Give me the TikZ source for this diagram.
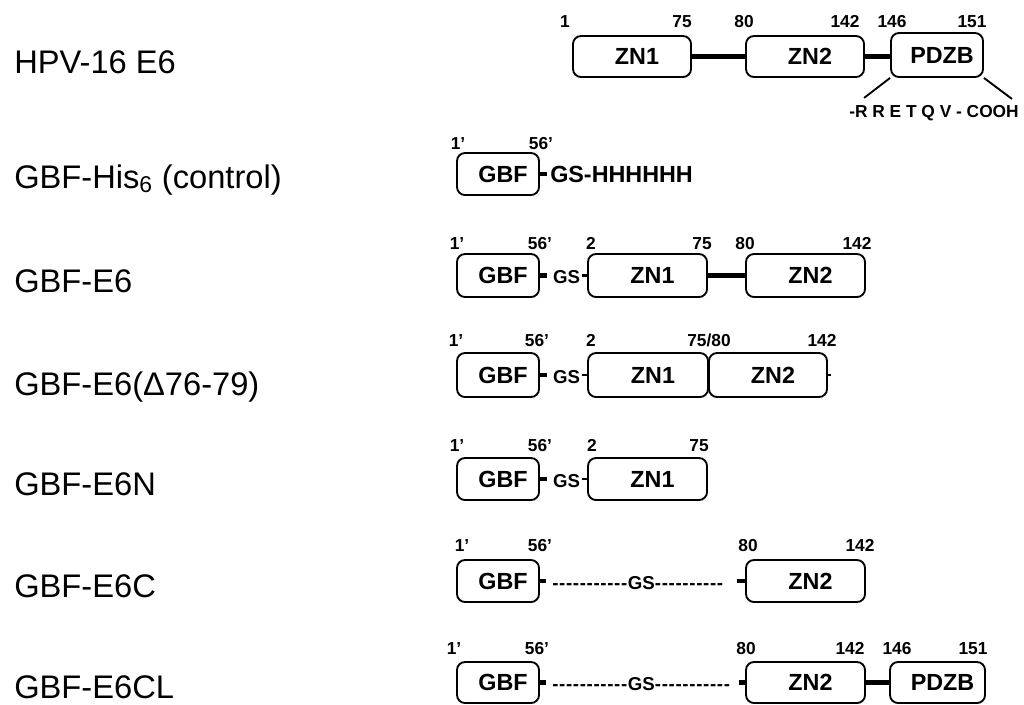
\documentclass[tikz,border=0pt]{standalone}
\usepackage{fontspec}
\setmainfont{Liberation Sans}
\tikzset{
  box/.style={draw, line width=1.4pt, rounded corners=6pt, inner sep=0pt,
    font=\fontsize{17.5}{20}\selectfont\bfseries},
  num/.style={font=\fontsize{13}{15}\selectfont\bfseries, inner sep=0pt, anchor=base, yshift=-6*0.75pt},
  lbl/.style={font=\fontsize{24.5}{28}\selectfont, anchor=base west, inner sep=0pt},
  link/.style={line width=3.75pt},
  dotlink/.style={line width=3.5pt},
  ticklink/.style={line width=2pt},
  thin/.style={line width=1.4pt},
  gstext/.style={font=\fontsize{14}{16}\selectfont\bfseries, inner sep=0pt},
  histext/.style={font=\fontsize{17.5}{20}\selectfont\bfseries, inner sep=0pt, anchor=west},
  seqtext/.style={font=\fontsize{13}{15}\selectfont\bfseries, inner sep=0pt},
}
\newcommand\pbox[6]{\node[box, minimum width=#4*0.75pt, minimum height=#5*0.75pt] (#1) at (#2,#3) {\hspace*{7.5pt}#6};}
\newcommand\hy{-\kern0.5pt}
\begin{document}
\begin{tikzpicture}[x=0.75pt,y=-0.75pt]
\useasboundingbox (0,0) rectangle (1024,704);

% labels
\node[lbl] (la) at (14,73) {HPV-16 E6};
\node[lbl] (lb) at (14,188) {GBF-His\textsubscript{6} (control)};
\node[lbl] (lc) at (14,292) {GBF-E6};
\node[lbl] (ld) at (14,395) {GBF-E6(Δ76-79)};
\node[lbl] (le) at (14,495) {GBF-E6N};
\node[lbl] (lf) at (14,597) {GBF-E6C};
\node[lbl] (lg) at (14,698) {GBF-E6CL};

% row 1
\pbox{aZa}{632}{56.5}{118}{41}{ZN1}
\pbox{aZb}{805}{56.5}{118}{41}{ZN2}
\pbox{aP}{937}{55}{92}{44}{PDZB}
\draw[link] (aZa.east) -- (aZb.west);
\draw[link] (aZb.east) -- (aZb.east -| aP.west);
\draw[thin] (aP.south west) -- ++(-26,20);
\draw[thin] (aP.south east) -- ++(28,21);
\node[seqtext] (aseq) at (934,113) {-R R E T Q V - COOH};
\node[num] (an1) at (565,21) {1};
\node[num] (an2) at (682,21) {75};
\node[num] (an3) at (744,21) {80};
\node[num] (an4) at (845,21) {142};
\node[num] (an5) at (892,21) {146};
\node[num] (an6) at (972,21) {151};

% row 2
\pbox{bG}{498}{174}{82}{42}{GBF}
\draw[dotlink] (bG.east) -- ++(7,0);
\node[histext] (bH) at (550,174) {GS-HHHHHH};
\node[num] (bn1) at (458,143) {1’};
\node[num] (bn2) at (541,143) {56’};

% row 3
\pbox{cG}{498}{275.5}{82}{43}{GBF}
\draw[dotlink] (cG.east) -- ++(7,0);
\node[gstext] (cS) at (566.5,277) {GS};
\pbox{cZa}{647.5}{275.5}{119}{43}{ZN1}
\pbox{cZb}{805.5}{275.5}{119}{43}{ZN2}
\draw[ticklink] (cZa.west) -- ++(-5,0);
\draw[link] (cZa.east) -- (cZb.west);
\node[num] (cn1) at (457,243) {1’};
\node[num] (cn2) at (540,243) {56’};
\node[num] (cn3) at (591,243) {2};
\node[num] (cn4) at (702,243) {75};
\node[num] (cn5) at (745,243) {80};
\node[num] (cn6) at (857,243) {142};

% row 4
\pbox{dG}{498}{375}{82}{44}{GBF}
\draw[dotlink] (dG.east) -- ++(7,0);
\node[gstext] (dS) at (566.5,377) {GS};
\pbox{dZa}{648}{375}{120}{44}{ZN1}
\pbox{dZb}{768}{375}{118}{44}{ZN2}
\draw[ticklink] (dZa.west) -- ++(-5,0);
\draw[ticklink] (dZb.east) -- ++(3,0);
\node[num] (dn1) at (456,340) {1’};
\node[num] (dn2) at (537,340) {56’};
\node[num] (dn3) at (591,340) {2};
\node[num] (dn4) at (709,340) {75/80};
\node[num] (dn5) at (822,340) {142};

% row 5
\pbox{eG}{498}{479}{82}{42}{GBF}
\draw[dotlink] (eG.east) -- ++(7,0);
\node[gstext] (eS) at (566.5,481) {GS};
\pbox{eZa}{647.5}{479}{119}{42}{ZN1}
\draw[ticklink] (eZa.west) -- ++(-5,0);
\node[num] (en1) at (457,445) {1’};
\node[num] (en2) at (540,445) {56’};
\node[num] (en3) at (592,445) {2};
\node[num] (en4) at (699,445) {75};

% row 6
\pbox{fG}{498}{581}{82}{42}{GBF}
\draw[dotlink] (fG.east) -- ++(6,0);
\node[gstext, anchor=west] (fS) at (552,583) {\hy\hy\hy\hy\hy\hy\hy\hy\hy\hy\hy GS\hy\hy\hy\hy\hy\hy\hy\hy\hy\hy};
\pbox{fZb}{805.5}{581}{119}{42}{ZN2}
\draw[dotlink] (fZb.west) -- ++(-8,0);
\node[num] (fn1) at (462,545) {1’};
\node[num] (fn2) at (540,545) {56’};
\node[num] (fn3) at (748,545) {80};
\node[num] (fn4) at (860,545) {142};

% row 7
\pbox{gG}{498}{682.5}{82}{41}{GBF}
\draw[dotlink] (gG.east) -- ++(6,0);
\node[gstext, anchor=west] (gS) at (552,684.5) {\hy\hy\hy\hy\hy\hy\hy\hy\hy\hy\hy GS\hy\hy\hy\hy\hy\hy\hy\hy\hy\hy\hy};
\pbox{gZb}{805.5}{682.5}{119}{41}{ZN2}
\pbox{gP}{937.5}{682.5}{95}{41}{PDZB}
\draw[dotlink] (gZb.west) -- ++(-6,0);
\draw[link] (gZb.east) -- (gP.west);
\node[num] (gn1) at (454,648) {1’};
\node[num] (gn2) at (537,648) {56’};
\node[num] (gn3) at (746,648) {80};
\node[num] (gn4) at (850,648) {142};
\node[num] (gn5) at (897,648) {146};
\node[num] (gn6) at (973,648) {151};
\end{tikzpicture}
\end{document}
